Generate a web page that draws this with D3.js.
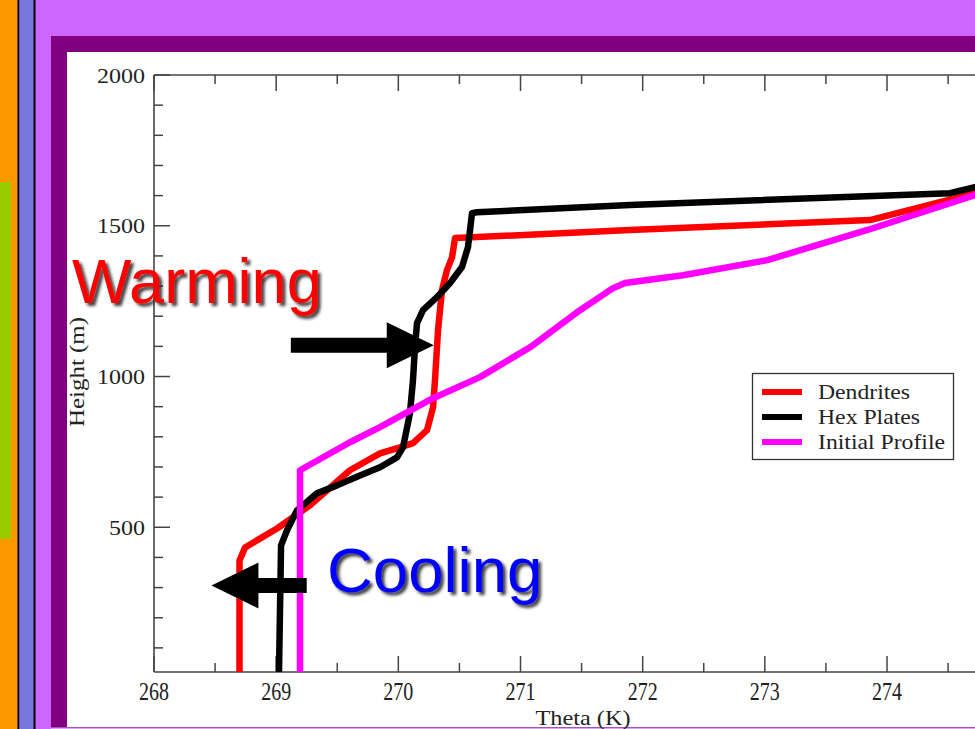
<!DOCTYPE html>
<html><head><meta charset="utf-8">
<script src="https://cdn.jsdelivr.net/npm/d3@7"></script>
<style>
html,body{margin:0;padding:0;background:#cc66ff;overflow:hidden;}
svg{display:block;}
</style></head>
<body>
<svg id="c" width="975" height="729"></svg>
<script>
// ---- data (theta K, height m) ----
const seriesNames = ["Dendrites", "Hex Plates", "Initial Profile"];
const seriesColors = ["#ff0000", "#000000", "#ff00ff"];

const dendritesTheta  = [268.70,268.70,268.745,269.007,269.277,269.604,269.85,270.014,270.12,270.235,270.284,270.30,270.325,270.357,270.398,270.44,270.464,271.896,273.86,274.72,275.6];
const dendritesHeight = [20,390,433,496,573,689,745,765,779,822,898,988,1154,1286,1353,1396,1459,1486,1519,1608,1680];

const hexTheta  = [269.023,269.04,269.089,269.17,269.334,269.498,269.686,269.85,269.989,270.038,270.095,270.12,270.136,270.153,270.202,270.316,270.423,270.521,270.57,270.587,270.603,270.644,271.896,274.515,274.72,275.6];
const hexHeight = [20,440,490,556,613,639,672,699,732,765,878,988,1097,1177,1220,1263,1310,1363,1429,1486,1542,1545,1569,1608,1628,1690];

const initTheta  = [269.195,269.195,269.604,269.85,270.284,270.668,271.078,271.487,271.757,271.855,272.33,273.02,273.84,274.72,275.6];
const initHeight = [20,689,782,832,928,998,1097,1220,1293,1310,1336,1386,1486,1602,1690];

const xMajorTicks = [268,269,270,271,272,273,274];
const xMinorTicks = [268.5,269.5,270.5,271.5,272.5,273.5,274.5];
const yMajorTicks = [500,1000,1500,2000];
const xDomain = [268, 276];
const yDomain = [20, 2000];

// annotation arrows in data coords: [thetaTail, thetaTip, height]
const warmArrow = [269.12, 270.29, 1104];
const coolArrow = [269.25, 268.47, 307];

// ---- drawing ----
const svg = d3.select("#c");
const W = 975, H = 729;

// background frame
svg.append("rect").attr("x",0).attr("y",0).attr("width",W).attr("height",H).attr("fill","#cc66ff");
svg.append("rect").attr("x",0).attr("y",0).attr("width",17.5).attr("height",H).attr("fill","#ff9900");
svg.append("rect").attr("x",0).attr("y",182).attr("width",11).attr("height",357).attr("fill","#99cc00");
svg.append("rect").attr("x",17.5).attr("y",0).attr("width",2).attr("height",H).attr("fill","#000");
svg.append("rect").attr("x",19.5).attr("y",0).attr("width",14).attr("height",H).attr("fill","#7878dc");
svg.append("rect").attr("x",33.5).attr("y",0).attr("width",2).attr("height",H).attr("fill","#000");
svg.append("rect").attr("x",51).attr("y",36).attr("width",W-51).attr("height",H-36).attr("fill","#800080");
svg.append("rect").attr("x",67).attr("y",52).attr("width",W-67).attr("height",675).attr("fill","#ffffff");
svg.append("rect").attr("x",51).attr("y",727.5).attr("width",W-51).attr("height",1.5).attr("fill","#d9a6ee");

const defs = svg.append("defs");
const f = defs.append("filter").attr("id","shadow").attr("x","-10%").attr("y","-10%").attr("width","130%").attr("height","140%");
f.append("feDropShadow").attr("dx",3).attr("dy",3).attr("stdDeviation",1.6).attr("flood-color","#222").attr("flood-opacity",0.85);

const x = d3.scaleLinear().domain(xDomain).range([154, 154 + 8*122.17]);
const y = d3.scaleLinear().domain(yDomain).range([672, 75]);

const axisColor = "#444";
const serif = "Liberation Serif, serif";
const g = svg.append("g");

// axes lines (frame)
g.append("line").attr("x1",x(268)).attr("x2",x(276)).attr("y1",y(yDomain[0])).attr("y2",y(yDomain[0])).attr("stroke",axisColor).attr("stroke-width",1.6);
g.append("line").attr("x1",x(268)).attr("x2",x(276)).attr("y1",y(2000)).attr("y2",y(2000)).attr("stroke",axisColor).attr("stroke-width",1.6);
g.append("line").attr("x1",x(268)).attr("x2",x(268)).attr("y1",y(yDomain[0])).attr("y2",y(2000)).attr("stroke",axisColor).attr("stroke-width",1.6);

const major = 16, minor = 9;
xMajorTicks.forEach(t=>{
  g.append("line").attr("x1",x(t)).attr("x2",x(t)).attr("y1",y(yDomain[0])).attr("y2",y(yDomain[0])-major).attr("stroke",axisColor).attr("stroke-width",1.5);
  g.append("line").attr("x1",x(t)).attr("x2",x(t)).attr("y1",y(2000)).attr("y2",y(2000)+major).attr("stroke",axisColor).attr("stroke-width",1.5);
  g.append("text").attr("x",x(t)).attr("y",700).attr("text-anchor","middle")
    .attr("font-family",serif).attr("font-size",25).attr("fill","#222")
    .attr("textLength",30).attr("lengthAdjust","spacingAndGlyphs").text(t);
});
xMinorTicks.forEach(t=>{
  g.append("line").attr("x1",x(t)).attr("x2",x(t)).attr("y1",y(yDomain[0])).attr("y2",y(yDomain[0])-minor).attr("stroke",axisColor).attr("stroke-width",1.5);
  g.append("line").attr("x1",x(t)).attr("x2",x(t)).attr("y1",y(2000)).attr("y2",y(2000)+minor).attr("stroke",axisColor).attr("stroke-width",1.5);
});
// y ticks
const yMinor = d3.range(100, 2000, 100).filter(v=>v%500!==0);
yMajorTicks.forEach(t=>{
  g.append("line").attr("x1",x(268)).attr("x2",x(268)+major).attr("y1",y(t)).attr("y2",y(t)).attr("stroke",axisColor).attr("stroke-width",1.5);
  g.append("text").attr("x",145).attr("y",y(t)+7.5).attr("text-anchor","end")
    .attr("font-family",serif).attr("font-size",22).attr("fill","#222")
    .attr("textLength", String(t).length*12).attr("lengthAdjust","spacingAndGlyphs").text(t);
});
yMinor.forEach(t=>{
  g.append("line").attr("x1",x(268)).attr("x2",x(268)+minor).attr("y1",y(t)).attr("y2",y(t)).attr("stroke",axisColor).attr("stroke-width",1.5);
});

// axis titles
g.append("text").attr("x",583).attr("y",725).attr("text-anchor","middle")
  .attr("font-family",serif).attr("font-size",22).attr("fill","#222")
  .attr("textLength",95).attr("lengthAdjust","spacingAndGlyphs").text("Theta (K)");
g.append("text").attr("transform","translate(84,372) rotate(-90)").attr("text-anchor","middle")
  .attr("font-family",serif).attr("font-size",21).attr("fill","#222")
  .attr("textLength",110).attr("lengthAdjust","spacingAndGlyphs").text("Height (m)");

// series
const series = [
  {name: seriesNames[0], color: seriesColors[0], th: dendritesTheta, h: dendritesHeight, len: 92},
  {name: seriesNames[1], color: seriesColors[1], th: hexTheta, h: hexHeight, len: 102},
  {name: seriesNames[2], color: seriesColors[2], th: initTheta, h: initHeight, len: 127}
];
const line = d3.line().x(d=>x(d[0])).y(d=>y(d[1]));
series.forEach(s=>{
  const pts = s.th.map((t,i)=>[t, s.h[i]]);
  g.append("path").attr("d",line(pts)).attr("fill","none").attr("stroke",s.color)
    .attr("stroke-width",6.5).attr("stroke-linejoin","round").attr("stroke-linecap","butt");
});

// legend
const lg = g.append("g");
lg.append("rect").attr("x",752.5).attr("y",373.5).attr("width",201).attr("height",86)
  .attr("fill","#fff").attr("stroke","#333").attr("stroke-width",1.3);
series.forEach((s,i)=>{
  const yy = 392 + i*25;
  lg.append("line").attr("x1",762).attr("x2",802).attr("y1",yy).attr("y2",yy).attr("stroke",s.color).attr("stroke-width",6);
  lg.append("text").attr("x",818).attr("y",yy+7).attr("font-family",serif)
    .attr("font-size",21).attr("fill","#222")
    .attr("textLength",s.len).attr("lengthAdjust","spacingAndGlyphs").text(s.name);
});

// arrows
function arrow(a, dir){
  const xt = x(a[0]), xp = x(a[1]), yc = y(a[2]);
  const headLen = 47, headHalf = 23, shaftHalf = 7.5;
  const xb = xp - dir*headLen;
  const p = `M${xt},${yc-shaftHalf} L${xb},${yc-shaftHalf} L${xb},${yc-headHalf} L${xp},${yc} L${xb},${yc+headHalf} L${xb},${yc+shaftHalf} L${xt},${yc+shaftHalf} Z`;
  g.append("path").attr("d",p).attr("fill","#000");
}
arrow(warmArrow, 1);
arrow(coolArrow, -1);

// annotations
g.append("text").attr("x",72).attr("y",303).attr("font-family","Liberation Sans, Arial, sans-serif")
  .attr("font-size",63).attr("fill","#ff0000").attr("filter","url(#shadow)").text("Warming");
g.append("text").attr("x",327).attr("y",592).attr("font-family","Liberation Sans, Arial, sans-serif")
  .attr("font-size",63.5).attr("fill","#0000ff").attr("filter","url(#shadow)").text("Cooling");
</script>
</body></html>
